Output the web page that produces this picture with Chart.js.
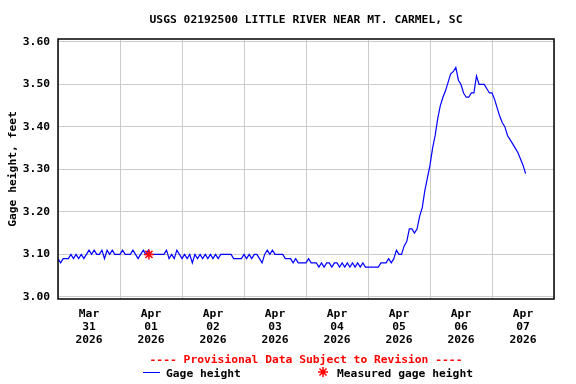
<!DOCTYPE html>
<html>
<head>
<meta charset="utf-8">
<script src="https://cdn.jsdelivr.net/npm/chart.js@4"></script>
<style>
  html, body { margin: 0; padding: 0; background: #fff; }
  #chart { display: block; }
</style>
</head>
<body>
<canvas id="chart" width="576" height="384"></canvas>
<script>
const stationTitle = 'USGS 02192500 LITTLE RIVER NEAR MT. CARMEL, SC';
const axisTitle = 'Gage height, feet';
const provisionalNote = '---- Provisional Data Subject to Revision ----';
const seriesName = 'Gage height';
const measuredName = 'Measured gage height';

// hourly readings, hour 0 = Mar 31 2026 00:00
const gageHeight = [
  3.09, 3.08, 3.09, 3.09, 3.09, 3.10, 3.09, 3.10, 3.09, 3.10, 3.09, 3.10,
  3.11, 3.10, 3.11, 3.10, 3.10, 3.11, 3.09, 3.11, 3.10, 3.11, 3.10, 3.10,
  3.10, 3.11, 3.10, 3.10, 3.10, 3.11, 3.10, 3.09, 3.10, 3.11, 3.10, 3.11,
  3.10, 3.10, 3.10, 3.10, 3.10, 3.10, 3.11, 3.09, 3.10, 3.09, 3.11, 3.10,
  3.09, 3.10, 3.09, 3.10, 3.08, 3.10, 3.09, 3.10, 3.09, 3.10, 3.09, 3.10,
  3.09, 3.10, 3.09, 3.10, 3.10, 3.10, 3.10, 3.10, 3.09, 3.09, 3.09, 3.09,
  3.10, 3.09, 3.10, 3.09, 3.10, 3.10, 3.09, 3.08, 3.10, 3.11, 3.10, 3.11,
  3.10, 3.10, 3.10, 3.10, 3.09, 3.09, 3.09, 3.08, 3.09, 3.08, 3.08, 3.08,
  3.08, 3.09, 3.08, 3.08, 3.08, 3.07, 3.08, 3.07, 3.08, 3.08, 3.07, 3.08,
  3.08, 3.07, 3.08, 3.07, 3.08, 3.07, 3.08, 3.07, 3.08, 3.07, 3.08, 3.07,
  3.07, 3.07, 3.07, 3.07, 3.07, 3.08, 3.08, 3.08, 3.09, 3.08, 3.09, 3.11,
  3.10, 3.10, 3.12, 3.13, 3.16, 3.16, 3.15, 3.16, 3.19, 3.21, 3.25, 3.28,
  3.31, 3.35, 3.38, 3.42, 3.45, 3.47, 3.485, 3.505, 3.525, 3.53, 3.54, 3.51,
  3.50, 3.48, 3.47, 3.47, 3.48, 3.48, 3.52, 3.50, 3.50, 3.50, 3.49, 3.48,
  3.48, 3.465, 3.445, 3.425, 3.41, 3.40, 3.38, 3.37, 3.36, 3.35, 3.34, 3.325,
  3.31, 3.29
];

const measuredHours = [35.2];
const measuredHeights = [3.10];

const dayLabels = [
  ['Mar', '31', '2026'],
  ['Apr', '01', '2026'],
  ['Apr', '02', '2026'],
  ['Apr', '03', '2026'],
  ['Apr', '04', '2026'],
  ['Apr', '05', '2026'],
  ['Apr', '06', '2026'],
  ['Apr', '07', '2026']
];
const yTicks = [3.00, 3.10, 3.20, 3.30, 3.40, 3.50, 3.60];

const FAMILY = '"DejaVu Sans Mono", "Liberation Mono", monospace';
const tickFont = { family: FAMILY, size: 11.3, weight: 'bold', lineHeight: 1.12 };
const canvasFont = 'bold 11.3px ' + FAMILY;

// title, axis title, frame and the legend underneath
const decorations = {
  id: 'decorations',
  afterDraw(chart) {
    const { ctx, chartArea } = chart;
    const cx = (chartArea.left + chartArea.right) / 2;
    ctx.save();

    ctx.strokeStyle = '#000';
    ctx.lineWidth = 1.5;
    ctx.strokeRect(chartArea.left, chartArea.top, chartArea.right - chartArea.left, chartArea.bottom - chartArea.top);

    ctx.font = canvasFont;
    ctx.fillStyle = '#000';
    ctx.textAlign = 'center';
    ctx.textBaseline = 'alphabetic';
    ctx.fillText(stationTitle, cx, 23);

    ctx.save();
    ctx.translate(16, (chartArea.top + chartArea.bottom) / 2);
    ctx.rotate(-Math.PI / 2);
    ctx.fillText(axisTitle, 0, 0);
    ctx.restore();

    ctx.fillStyle = '#ff0000';
    ctx.fillText(provisionalNote, cx, 363);

    // legend row
    ctx.textAlign = 'left';
    ctx.fillStyle = '#000';
    ctx.strokeStyle = '#0000ff';
    ctx.lineWidth = 1;
    ctx.beginPath();
    ctx.moveTo(143, 372.5);
    ctx.lineTo(160, 372.5);
    ctx.stroke();
    ctx.fillText(seriesName, 166, 377);

    ctx.strokeStyle = '#ff0000';
    ctx.lineWidth = 1.5;
    const sx = 323, sy = 372, r = 5;
    ctx.beginPath();
    for (let a = 0; a < 4; a++) {
      const ang = a * Math.PI / 4;
      ctx.moveTo(sx - r * Math.cos(ang), sy - r * Math.sin(ang));
      ctx.lineTo(sx + r * Math.cos(ang), sy + r * Math.sin(ang));
    }
    ctx.stroke();
    ctx.fillText(measuredName, 337, 377);

    ctx.restore();
  }
};

new Chart(document.getElementById('chart'), {
  type: 'line',
  data: {
    datasets: [{
      label: seriesName,
      data: gageHeight.map((h, i) => ({ x: i, y: h })),
      borderColor: '#0000ff',
      borderWidth: 1.2,
      pointRadius: 0,
      tension: 0,
      order: 2
    }, {
      label: measuredName,
      data: measuredHours.map((t, i) => ({ x: t, y: measuredHeights[i] })),
      showLine: false,
      pointStyle: 'star',
      pointRadius: 5,
      borderColor: '#ff0000',
      backgroundColor: '#ff0000',
      pointBorderWidth: 1.5,
      order: 1
    }]
  },
  options: {
    responsive: false,
    animation: false,
    events: [],
    layout: { padding: { top: 39, right: 22, left: 0, bottom: 0 } },
    plugins: {
      legend: { display: false },
      tooltip: { enabled: false }
    },
    scales: {
      x: {
        type: 'linear',
        min: 0,
        max: 192,
        afterBuildTicks: (scale) => {
          const ticks = [];
          for (let v = 0; v <= 192; v += 12) ticks.push({ value: v });
          scale.ticks = ticks;
        },
        afterFit: (scale) => { scale.height = 85; },
        border: { display: false },
        grid: {
          drawTicks: false,
          color: (c) => (c.tick && c.tick.value % 24 === 0) ? '#cccccc' : 'rgba(0,0,0,0)',
          lineWidth: 1
        },
        ticks: {
          autoSkip: false,
          maxRotation: 0,
          padding: 9,
          color: '#000',
          font: tickFont,
          callback: (v) => (v % 24 === 12) ? dayLabels[(v - 12) / 24] : ''
        }
      },
      y: {
        min: 2.995,
        max: 3.607,
        afterBuildTicks: (scale) => {
          scale.ticks = yTicks.map(v => ({ value: v }));
        },
        afterFit: (scale) => { scale.width = 58; },
        border: { display: false },
        grid: { drawTicks: false, color: '#cccccc', lineWidth: 1 },
        ticks: {
          padding: 8,
          color: '#000',
          font: tickFont,
          callback: (v) => v.toFixed(2)
        }
      }
    }
  },
  plugins: [decorations]
});
</script>
</body>
</html>
